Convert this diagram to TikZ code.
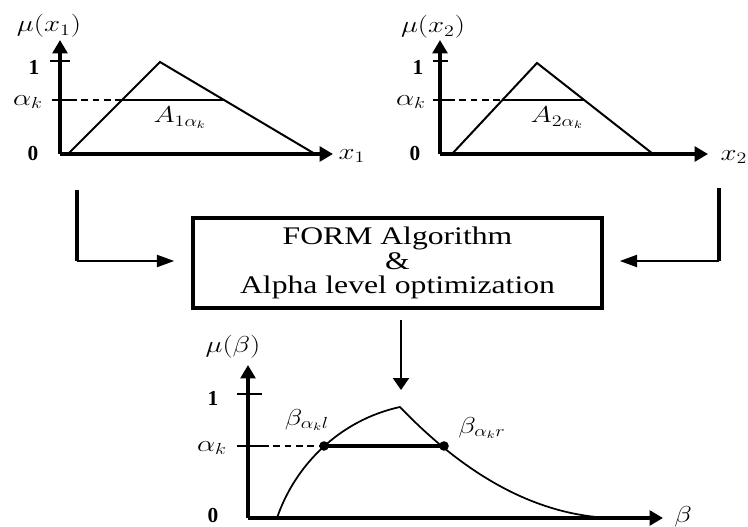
\documentclass[tikz,border=0pt]{standalone}
\usepackage{fontspec}
\setmainfont{Liberation Serif}
\usetikzlibrary{arrows.meta,positioning}
\newcommand{\wtx}[1]{\scalebox{1.25}[1]{#1}}

\begin{document}
\begin{tikzpicture}[x=0.75pt,y=-0.75pt,every node/.style={font=\fontsize{17}{19}\selectfont},
  axis/.style={line width=2.6pt,-{Triangle[length=10pt,width=11pt]}},
  tri/.style={line width=1.5pt,line join=miter},
  cut/.style={line width=2pt},
  dsh/.style={line width=0.9pt,dash pattern=on 5pt off 3.5pt},
  tick/.style={line width=1.9pt},
  vline/.style={line width=3pt},
  conn/.style={line width=1.6pt,-{Triangle[length=13pt,width=9pt]}},
  num/.style={font=\fontsize{16}{18}\selectfont\bfseries},
  algbox/.style={draw,line width=2.6pt,minimum width=306.75pt,minimum height=67.5pt,inner sep=0pt,align=center,font=\fontsize{19}{18.4}\selectfont}]
\useasboundingbox (0,0) rectangle (748,527);
% membership of x1
\coordinate (o1) at (60,154);
\draw[axis] (o1) -- (60,40);
\draw[axis] (o1) -- (333,154);
\draw[tick] (50,61) -- (70,61);
\draw[tick] (52,100) -- (70,100);
\draw[dsh] (70,100) -- (122,100);
\draw[tri] (68,154) -- (160,62) -- (315,154);
\draw[cut] (122,100) -- (225,100);
\node (mux1) at (49,26) {\wtx{$\mu(x_1)$}};
\node[num] (one1) at (34,67) {1};
\node (ak1) at (28,102) {\wtx{$\alpha_k$}};
\node[num] (zero1) at (33,154) {0};
\node (x1) at (352,156) {\wtx{$x_1$}};
\node (A1) at (180,118) {\wtx{$A_{1\alpha_k}$}};
% membership of x2
\coordinate (o2) at (440,154);
\draw[axis] (o2) -- (440,40);
\draw[axis] (o2) -- (708,154);
\draw[tick] (433,61) -- (448,61);
\draw[tick] (433,100) -- (448,100);
\draw[dsh] (448,100) -- (502,100);
\draw[tri] (452,154) -- (537,63) -- (653,154);
\draw[cut] (502,100) -- (584,100);
\node (mux2) at (433,27) {\wtx{$\mu(x_2)$}};
\node[num] (one2) at (418,67) {1};
\node (ak2) at (411,102) {\wtx{$\alpha_k$}};
\node[num] (zero2) at (415,154) {0};
\node (x2) at (734,157) {\wtx{$x_2$}};
\node (A2) at (557,118) {\wtx{$A_{2\alpha_k}$}};
% algorithm
\node[algbox] (box) at (397.5,263) {\wtx{FORM Algorithm}\\\wtx{\&}\\\wtx{Alpha level optimization}};
\coordinate (ltop) at (77,190);
\coordinate (lbend) at (77,261);
\coordinate (rtop) at (719,188);
\coordinate (rbend) at (719,261);
\coordinate (peak) at (401,390);
\draw[vline] (ltop) -- (lbend);
\draw[conn,shorten >=12.75pt] (lbend) -- (lbend -| box.west);
\draw[vline] (rtop) -- (rbend);
\draw[conn,shorten >=12pt] (rbend) -- (rbend -| box.east);
\draw[conn,-{Triangle[length=9pt,width=12pt]},shorten <=7.5pt] (box.south -| peak) -- (peak);
% membership of beta
\coordinate (o3) at (248,518);
\draw[axis] (o3) -- (248,365);
\draw[axis] (o3) -- (663,518);
\draw[tick] (237,394) -- (262,394);
\draw[tick] (237,446) -- (262,446);
\draw[dsh] (262,446) -- (324,446);
\draw[line width=1.3pt] (277,518) .. controls (295,465) and (340,420) .. (400,407)
  .. controls (470,480) and (540,515) .. (610,518);
\draw[line width=2.6pt] (324,446) -- (444,446);
\fill (324,446) circle (3.6pt);
\fill (444,446) circle (3.6pt);
\node (mub) at (233,347) {\wtx{$\mu(\beta)$}};
\node[num] (one3) at (213,398) {1};
\node (ak3) at (212,448) {\wtx{$\alpha_k$}};
\node[num] (zero3) at (213,516) {0};
\node (beta) at (683,517) {\wtx{$\beta$}};
\node (bl) at (307,420) {\wtx{$\beta_{\alpha_k l}$}};
\node (br) at (482,428) {\wtx{$\beta_{\alpha_k r}$}};
\end{tikzpicture}
\end{document}
